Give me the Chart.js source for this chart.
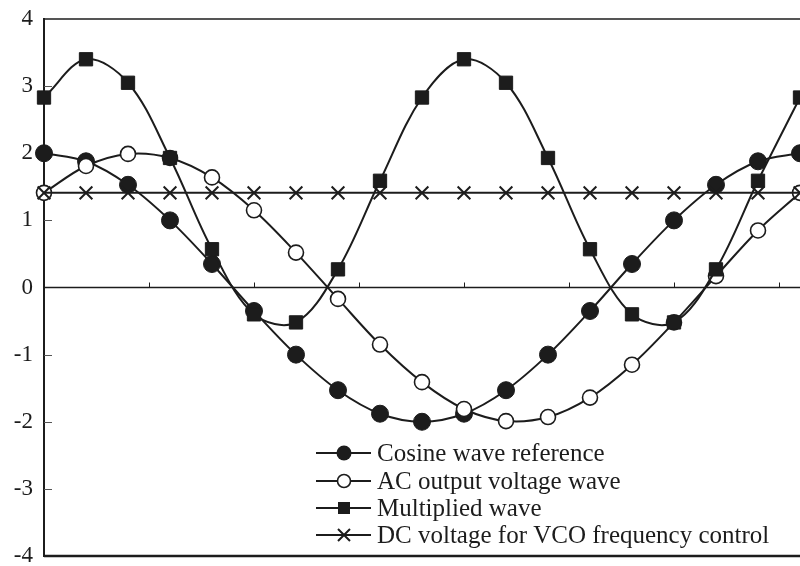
<!DOCTYPE html>
<html>
<head>
<meta charset="utf-8">
<script src="https://cdn.jsdelivr.net/npm/chart.js@4/dist/chart.umd.min.js"></script>
<style>
  html, body { margin: 0; padding: 0; background: #ffffff; overflow: hidden; }
  #wrap { width: 800px; height: 566px; }
</style>
</head>
<body>
<div id="wrap"><canvas id="c" width="800" height="566"></canvas></div>
<script>
// Phase angle (degrees) of each sample
const phaseDeg = [0, 20, 40, 60, 80, 100, 120, 140, 160, 180, 200, 220, 240, 260, 280, 300, 320, 340, 360];
// Series values
const cosineRef  = [2.00, 1.88, 1.53, 1.00, 0.35, -0.35, -1.00, -1.53, -1.88, -2.00, -1.88, -1.53, -1.00, -0.35, 0.35, 1.00, 1.53, 1.88, 2.00];
const acOutput   = [1.41, 1.81, 1.99, 1.93, 1.64, 1.15, 0.52, -0.17, -0.85, -1.41, -1.81, -1.99, -1.93, -1.64, -1.15, -0.52, 0.17, 0.85, 1.41];
const multiplied = [2.83, 3.40, 3.05, 1.93, 0.57, -0.40, -0.52, 0.27, 1.59, 2.83, 3.40, 3.05, 1.93, 0.57, -0.40, -0.52, 0.27, 1.59, 2.83];
const dcControl  = [1.41, 1.41, 1.41, 1.41, 1.41, 1.41, 1.41, 1.41, 1.41, 1.41, 1.41, 1.41, 1.41, 1.41, 1.41, 1.41, 1.41, 1.41, 1.41];
// Labels
const seriesNames = ["Cosine wave reference", "AC output voltage wave", "Multiplied wave", "DC voltage for VCO frequency control"];
const yTickValues = [4, 3, 2, 1, 0, -1, -2, -3, -4];
const xTickValues = [50, 100, 150, 200, 250, 300, 350];

const INK = '#1c1c1c';
const SERIF = '"Liberation Serif", "Times New Roman", serif';

function pts(vals) { return vals.map((v, i) => ({ x: phaseDeg[i], y: v })); }

// open circles where the square sits exactly on them look solid in the picture
const acFill = acOutput.map((v, i) => (Math.abs(v - multiplied[i]) < 0.02 ? INK : '#ffffff'));

const common = { borderColor: INK, borderWidth: 2, tension: 0.35, clip: false, fill: false };

const datasets = [
  Object.assign({}, common, { label: seriesNames[0], data: pts(cosineRef), order: 3,
    pointStyle: 'circle', pointRadius: 8.5, pointBackgroundColor: INK, pointBorderColor: INK, pointBorderWidth: 1 }),
  Object.assign({}, common, { label: seriesNames[1], data: pts(acOutput), order: 2,
    pointStyle: 'circle', pointRadius: 7.5, pointBackgroundColor: acFill, pointBorderColor: INK, pointBorderWidth: 1.6 }),
  Object.assign({}, common, { label: seriesNames[2], data: pts(multiplied), order: 1,
    pointStyle: 'rect', pointRadius: 9.4, pointBackgroundColor: INK, pointBorderColor: INK, pointBorderWidth: 1 }),
  Object.assign({}, common, { label: seriesNames[3], data: pts(dcControl), order: 0, tension: 0,
    pointStyle: 'crossRot', pointRadius: 9, pointBackgroundColor: INK, pointBorderColor: INK, pointBorderWidth: 2 })
];

const framePlugin = {
  id: 'frame',
  beforeDatasetsDraw(chart) {
    const { ctx, chartArea: a, scales: { x, y } } = chart;
    ctx.save();
    ctx.strokeStyle = INK;
    // top frame line
    ctx.lineWidth = 1.6;
    ctx.beginPath(); ctx.moveTo(a.left, a.top); ctx.lineTo(a.right, a.top); ctx.stroke();
    // bottom frame line
    ctx.lineWidth = 2.6;
    ctx.beginPath(); ctx.moveTo(a.left, a.bottom); ctx.lineTo(a.right, a.bottom); ctx.stroke();
    // zero line (category axis)
    const y0 = y.getPixelForValue(0);
    ctx.lineWidth = 1.6;
    ctx.beginPath(); ctx.moveTo(a.left, y0); ctx.lineTo(a.right, y0); ctx.stroke();
    // x tick marks (upward)
    ctx.lineWidth = 1;
    xTickValues.forEach(v => {
      const px = Math.round(x.getPixelForValue(v)) + 0.5;
      ctx.beginPath(); ctx.moveTo(px, y0); ctx.lineTo(px, y0 - 5); ctx.stroke();
    });
    // y tick marks (inward)
    ctx.strokeStyle = '#555555';
    yTickValues.forEach(v => {
      if (v === 0 || v === 4 || v === -4) return;
      const py = Math.round(y.getPixelForValue(v)) + 0.5;
      ctx.beginPath(); ctx.moveTo(a.left, py); ctx.lineTo(a.left + 8, py); ctx.stroke();
    });
    ctx.restore();
  },
  afterDraw(chart) {
    const { ctx } = chart;
    ctx.save();
    const rowsY = [453, 481, 508, 535];
    const lx0 = 316, lx1 = 371, mx = 344, tx = 377;
    ctx.font = '25px ' + SERIF;
    ctx.textBaseline = 'middle';
    ctx.textAlign = 'left';
    chart.data.datasets.forEach((ds, i) => {
      const yy = rowsY[i];
      ctx.strokeStyle = INK; ctx.lineWidth = 2;
      ctx.beginPath(); ctx.moveTo(lx0, yy); ctx.lineTo(lx1, yy); ctx.stroke();
      ctx.fillStyle = INK;
      if (ds.pointStyle === 'circle' && i === 0) {
        ctx.beginPath(); ctx.arc(mx, yy, 7.5, 0, Math.PI * 2); ctx.fill();
      } else if (ds.pointStyle === 'circle') {
        ctx.fillStyle = '#ffffff'; ctx.lineWidth = 1.6;
        ctx.beginPath(); ctx.arc(mx, yy, 6.5, 0, Math.PI * 2); ctx.fill(); ctx.stroke();
      } else if (ds.pointStyle === 'rect') {
        ctx.fillRect(mx - 6, yy - 6, 12, 12);
      } else {
        ctx.lineWidth = 2;
        ctx.beginPath();
        ctx.moveTo(mx - 6, yy - 6); ctx.lineTo(mx + 6, yy + 6);
        ctx.moveTo(mx + 6, yy - 6); ctx.lineTo(mx - 6, yy + 6);
        ctx.stroke();
      }
      ctx.fillStyle = INK;
      ctx.fillText(ds.label, tx, yy + 1);
    });
    ctx.restore();
  }
};

new Chart(document.getElementById('c'), {
  type: 'line',
  data: { datasets },
  plugins: [framePlugin],
  options: {
    responsive: false,
    devicePixelRatio: 1,
    animation: false,
    events: [],
    layout: { autoPadding: false, padding: { top: 19, bottom: 10, left: 0, right: 0 } },
    plugins: { legend: { display: false }, tooltip: { enabled: false } },
    scales: {
      x: {
        type: 'linear', min: 0, max: 360, display: false
      },
      y: {
        type: 'linear', min: -4, max: 4,
        afterFit(scale) {
          scale.width = 44;
          scale.paddingTop = 0; scale.paddingBottom = 0;
        },
        afterBuildTicks(scale) { scale.ticks = yTickValues.map(v => ({ value: v })); },
        border: { display: true, color: INK, width: 2 },
        grid: { display: false, drawTicks: false },
        ticks: { color: INK, padding: 11, font: { family: SERIF, size: 23 } }
      }
    }
  }
});
</script>
</body>
</html>
